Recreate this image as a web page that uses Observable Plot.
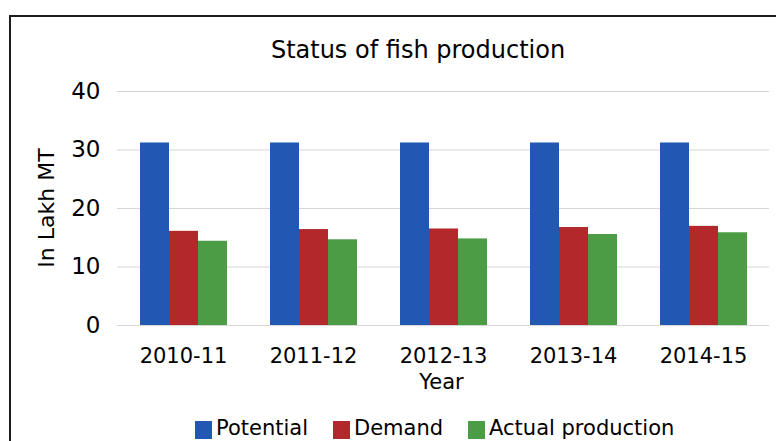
<!DOCTYPE html>
<html>
<head>
<meta charset="utf-8">
<script src="https://cdn.jsdelivr.net/npm/d3@7"></script>
<script src="https://cdn.jsdelivr.net/npm/@observablehq/plot@0.6"></script>
<style>
  html, body { margin: 0; padding: 0; background: #fff; }
  #wrap { position: relative; width: 776px; height: 441px; overflow: hidden; font-family: "DejaVu Sans", Verdana, sans-serif; color: #000; }
  #frame { position: absolute; left: 9px; top: 15px; width: 900px; height: 600px; border-left: 2px solid #1c1c1c; border-top: 2px solid #1c1c1c; }
  .layer { position: absolute; left: 0; top: 0; }
  .txt { position: absolute; white-space: nowrap; line-height: 1; }
  #title { font-size: 24px; left: 418px; top: 37.7px; transform: translateX(-50%); }
  #xlabel { font-size: 21px; left: 441.5px; top: 372.2px; transform: translateX(-50%); }
  #ylabel { font-size: 22px; left: 46.5px; top: 208px; transform: translate(-50%, -50%) rotate(-90deg); }
  #legend { position: absolute; left: 195px; top: 418.2px; font-size: 21px; line-height: 1; white-space: nowrap; }
  #legend .item { display: inline-block; margin-right: 25px; }
  #legend .sw { display: inline-block; width: 17px; height: 18px; margin-right: 4px; vertical-align: -4px; }
</style>
</head>
<body>
<div id="wrap">
  <div id="frame"></div>
  <div id="grid" class="layer"></div>
  <div id="bars" class="layer"></div>
  <div id="title" class="txt">Status of fish production</div>
  <div id="ylabel" class="txt">In Lakh MT</div>
  <div id="xlabel" class="txt">Year</div>
  <div id="legend"></div>
</div>
<script>
const years = ["2010-11", "2011-12", "2012-13", "2013-14", "2014-15"];
const seriesNames = ["Potential", "Demand", "Actual production"];
const potential = [31.2, 31.2, 31.2, 31.2, 31.2];
const demand = [16.1, 16.4, 16.5, 16.75, 16.95];
const actual = [14.4, 14.65, 14.8, 15.55, 15.85];
const yTicks = [0, 10, 20, 30, 40];
const colors = ["#2258b3", "#b3282b", "#4b9c45"];

const seriesValues = [potential, demand, actual];
const data = [];
years.forEach((year, i) => {
  seriesNames.forEach((s, j) => data.push({year, series: s, value: seriesValues[j][i]}));
});

const W = 776, H = 370;
const common = {
  width: W, height: H,
  marginTop: 91, marginBottom: 45, marginLeft: 117, marginRight: 7
};

const gridPlot = Plot.plot({
  ...common,
  style: {fontFamily: "DejaVu Sans, Verdana, sans-serif", fontSize: "23px", color: "#000", background: "transparent"},
  y: {domain: [0, 40], ticks: yTicks, tickSize: 0, tickPadding: 17, label: null},
  marks: [
    Plot.ruleY(yTicks, {stroke: "#d6d6d6", strokeWidth: 1})
  ]
});
document.getElementById("grid").appendChild(gridPlot);

const barPlot = Plot.plot({
  ...common,
  style: {fontFamily: "DejaVu Sans, Verdana, sans-serif", fontSize: "21px", color: "#000", background: "transparent"},
  fx: {domain: years, paddingInner: 0.32, paddingOuter: 0.15, tickSize: 0, tickPadding: 23, label: null},
  x: {domain: seriesNames, padding: 0, axis: null},
  y: {domain: [0, 40], axis: null},
  color: {domain: seriesNames, range: colors},
  marks: [
    Plot.barY(data, {fx: "year", x: "series", y: "value", fill: "series"})
  ]
});
document.getElementById("bars").appendChild(barPlot);

const legend = document.getElementById("legend");
seriesNames.forEach((s, j) => {
  const item = document.createElement("span");
  item.className = "item";
  const sw = document.createElement("span");
  sw.className = "sw";
  sw.style.background = colors[j];
  item.appendChild(sw);
  item.appendChild(document.createTextNode(s));
  legend.appendChild(item);
});
</script>
</body>
</html>
